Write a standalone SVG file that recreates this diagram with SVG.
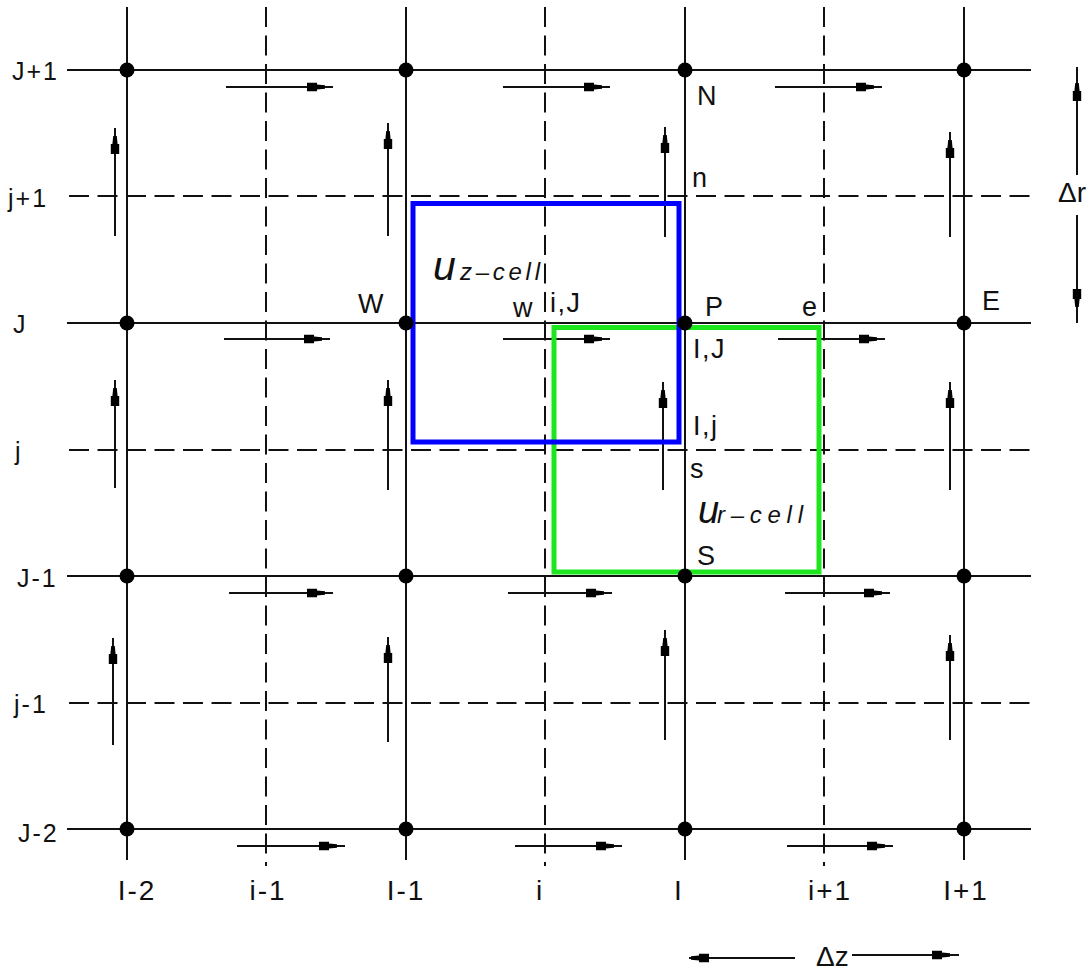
<svg xmlns="http://www.w3.org/2000/svg" width="1091" height="970" viewBox="0 0 1091 970">
<style>
.sl{stroke:#111;stroke-width:2;fill:none}
.dl{stroke:#111;stroke-width:2;fill:none;stroke-dasharray:20 8.5}
.ar{stroke:#111;stroke-width:2;fill:none;marker-mid:url(#ah)}
.dot{fill:#000}
text{font-family:"Liberation Sans",Arial,sans-serif;fill:#111}
.lt{font-size:25px;letter-spacing:2px}
.bt{font-size:28px;letter-spacing:2px;text-anchor:middle}
.nt{font-size:27px;letter-spacing:1.5px}
.dt{font-size:28px}
.it{font-style:italic}
</style>
<defs>
<marker id="ah" viewBox="-20 -6 21 12" markerWidth="21" markerHeight="12" refX="0" refY="0" orient="auto" markerUnits="userSpaceOnUse" overflow="visible">
<path d="M-18,-4.2 L-8,-4.2 L-8,-2.6 L0,-1.8 L0,1.8 L-8,2.6 L-8,4.2 L-18,4.2 Z" fill="#000"/>
</marker>
</defs>
<rect width="1091" height="970" fill="#fff"/>
<g id="grid">
<path class="sl" d="M67,70H1031M67,323H1031M67,576H1031M67,829H1031"/>
<path class="dl" d="M69,196H1031M69,450H1031M69,703H1031"/>
<path class="sl" d="M127,7V860M406,7V860M685,7V860M964,7V860"/>
<path class="dl" d="M266,7V866M545,7V866M824,7V866"/>
</g>
<g id="connectors">
<path class="ar" d="M226,87H325H333"/>
<path class="ar" d="M503,87H602H610"/>
<path class="ar" d="M775,87H874H882"/>
<path class="ar" d="M224,339H322H330"/>
<path class="ar" d="M503,339H602H610"/>
<path class="ar" d="M778,339H877H885"/>
<path class="ar" d="M229,593H325H333"/>
<path class="ar" d="M508,593H604H612"/>
<path class="ar" d="M785,593H882H890"/>
<path class="ar" d="M237,846H337H345"/>
<path class="ar" d="M515,846H614H622"/>
<path class="ar" d="M787,846H885H893"/>
<path class="ar" d="M115,236V136V128"/>
<path class="ar" d="M388,236V131V123"/>
<path class="ar" d="M665,237V135V127"/>
<path class="ar" d="M950,237V140V132"/>
<path class="ar" d="M115,488V388V380"/>
<path class="ar" d="M388,490V388V380"/>
<path class="ar" d="M663,490V390V382"/>
<path class="ar" d="M950,490V390V382"/>
<path class="ar" d="M113,745V646V638"/>
<path class="ar" d="M388,742V645V637"/>
<path class="ar" d="M665,740V638V630"/>
<path class="ar" d="M950,740V643V635"/>
<path class="ar" d="M1077,175V83V67"/>
<path class="ar" d="M1077,215V307V323"/>
<path class="ar" d="M795,958H691H689"/>
<path class="ar" d="M852,955H950H959"/>
</g>
<g id="cell-ur">
<rect x="554" y="327.5" width="265" height="244.5" fill="none" stroke="#1ee61e" stroke-width="5"/>
<text x="698" y="523" class="it" font-size="38px">u</text>
<text x="717" y="523" class="it" font-size="24px" textLength="86" lengthAdjust="spacing">r–cell</text>
</g>
<g id="cell-uz">
<rect x="413" y="203.5" width="266" height="238.5" fill="none" stroke="#0000ff" stroke-width="5"/>
<text x="433" y="280" class="it" font-size="41px">u</text>
<text x="460" y="280" class="it" font-size="24px" textLength="80" lengthAdjust="spacing">z–cell</text>
</g>
<g id="nodes">
<g id="n-Im2-Jp1"><circle class="dot" cx="127" cy="70" r="7.5"/></g>
<g id="n-Im1-Jp1"><circle class="dot" cx="406" cy="70" r="7.5"/></g>
<g id="n-I-Jp1"><circle class="dot" cx="685" cy="70" r="7.5"/></g>
<g id="n-Ip1-Jp1"><circle class="dot" cx="964" cy="70" r="7.5"/></g>
<g id="n-Im2-J"><circle class="dot" cx="127" cy="323" r="7.5"/></g>
<g id="n-Im1-J"><circle class="dot" cx="406" cy="323" r="7.5"/></g>
<g id="n-I-J"><circle class="dot" cx="685" cy="323" r="7.5"/></g>
<g id="n-Ip1-J"><circle class="dot" cx="964" cy="323" r="7.5"/></g>
<g id="n-Im2-Jm1"><circle class="dot" cx="127" cy="576" r="7.5"/></g>
<g id="n-Im1-Jm1"><circle class="dot" cx="406" cy="576" r="7.5"/></g>
<g id="n-I-Jm1"><circle class="dot" cx="685" cy="576" r="7.5"/></g>
<g id="n-Ip1-Jm1"><circle class="dot" cx="964" cy="576" r="7.5"/></g>
<g id="n-Im2-Jm2"><circle class="dot" cx="127" cy="829" r="7.5"/></g>
<g id="n-Im1-Jm2"><circle class="dot" cx="406" cy="829" r="7.5"/></g>
<g id="n-I-Jm2"><circle class="dot" cx="685" cy="829" r="7.5"/></g>
<g id="n-Ip1-Jm2"><circle class="dot" cx="964" cy="829" r="7.5"/></g>
</g>
<g id="row-labels">
<text class="lt" x="12" y="80">J+1</text>
<text class="lt" x="8" y="207">j+1</text>
<text class="lt" x="13" y="333">J</text>
<text class="lt" x="15" y="460">j</text>
<text class="lt" x="17" y="587">J-1</text>
<text class="lt" x="14" y="713">j-1</text>
<text class="lt" x="18" y="842">J-2</text>
</g>
<g id="col-labels">
<text class="bt" x="137" y="900">I-2</text>
<text class="bt" x="268" y="900">i-1</text>
<text class="bt" x="406" y="900">I-1</text>
<text class="bt" x="540" y="900">i</text>
<text class="bt" x="679" y="900">I</text>
<text class="bt" x="830" y="900">i+1</text>
<text class="bt" x="966" y="900">I+1</text>
</g>
<g id="node-labels">
<text class="nt" x="697" y="105">N</text>
<text class="nt" x="692" y="187">n</text>
<text class="nt" x="358" y="313">W</text>
<text class="nt" x="513" y="317">w</text>
<text class="nt" x="550" y="312">i,J</text>
<text class="nt" x="705" y="316">P</text>
<text class="nt" x="802" y="316">e</text>
<text class="nt" x="982" y="310">E</text>
<text class="nt" x="693" y="358">I,J</text>
<text class="nt" x="693" y="435">I,j</text>
<text class="nt" x="690" y="478">s</text>
<text class="nt" x="697" y="565">S</text>
<text class="dt" x="1058" y="202">Δr</text>
<text class="dt" x="816" y="966">Δz</text>
</g>
</svg>
